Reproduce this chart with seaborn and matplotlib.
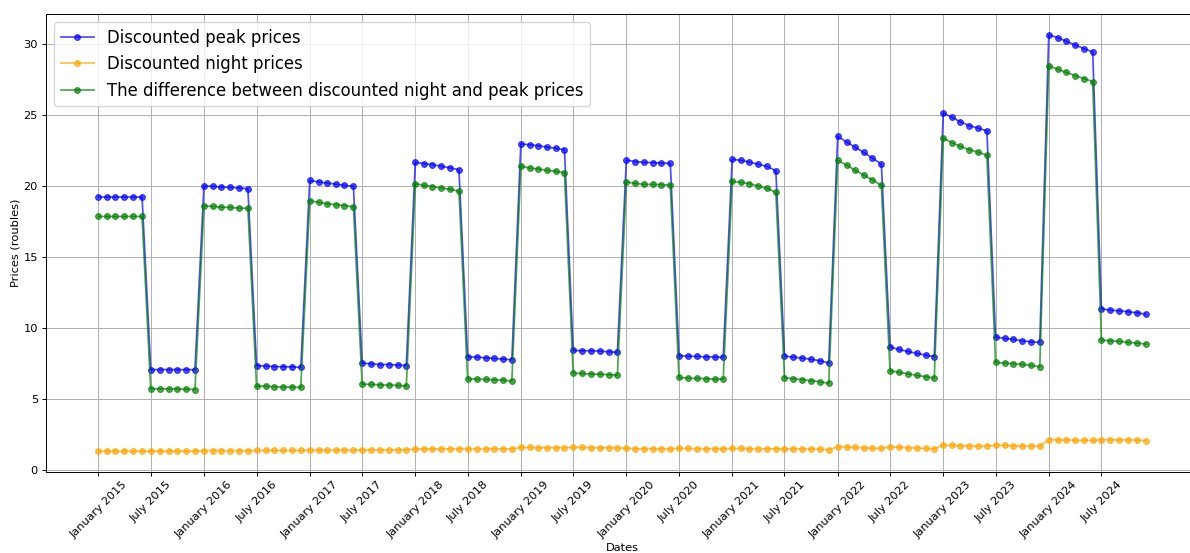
import pandas as pd
import matplotlib
matplotlib.use("Agg")
import matplotlib.pyplot as plt
import seaborn as sns


# monthly values, Jan 2015 - Dec 2024
dates = pd.date_range("2015-01-01", "2024-12-01", freq="MS")

peak_prices = [
    19.25, 19.25, 19.25, 19.25, 19.25, 19.25, 7.10, 7.10, 7.10, 7.10, 7.10, 7.09,
    20.02, 20.00, 19.95, 19.93, 19.88, 19.84, 7.39, 7.35, 7.32, 7.30, 7.30, 7.25,
    20.42, 20.31, 20.23, 20.16, 20.07, 20.00, 7.56, 7.51, 7.46, 7.46, 7.42, 7.39,
    21.69, 21.60, 21.53, 21.41, 21.31, 21.17, 8.00, 7.98, 7.93, 7.89, 7.84, 7.79,
    22.98, 22.93, 22.86, 22.77, 22.68, 22.58, 8.45, 8.43, 8.43, 8.40, 8.36, 8.31,
    21.85, 21.74, 21.69, 21.67, 21.64, 21.62, 8.08, 8.05, 8.03, 8.00, 8.00, 7.96,
    21.90, 21.83, 21.71, 21.55, 21.41, 21.10, 8.05, 7.98, 7.91, 7.82, 7.73, 7.56,
    23.52, 23.12, 22.77, 22.39, 21.99, 21.57, 8.69, 8.52, 8.38, 8.24, 8.13, 8.01,
    25.16, 24.85, 24.55, 24.27, 24.10, 23.91, 9.39, 9.30, 9.23, 9.13, 9.06, 9.02,
    30.66, 30.47, 30.21, 29.95, 29.70, 29.46, 11.38, 11.29, 11.24, 11.17, 11.10, 11.01,
]

night_prices = [
    1.36, 1.36, 1.36, 1.36, 1.36, 1.36, 1.36, 1.36, 1.36, 1.36, 1.36, 1.36,
    1.40, 1.40, 1.40, 1.40, 1.40, 1.40, 1.41, 1.41, 1.41, 1.41, 1.41, 1.41,
    1.43, 1.43, 1.43, 1.43, 1.43, 1.43, 1.45, 1.45, 1.45, 1.45, 1.45, 1.45,
    1.52, 1.52, 1.52, 1.52, 1.52, 1.52, 1.52, 1.52, 1.52, 1.52, 1.52, 1.52,
    1.62, 1.62, 1.61, 1.61, 1.61, 1.61, 1.62, 1.62, 1.61, 1.61, 1.61, 1.60,
    1.57, 1.53, 1.53, 1.53, 1.53, 1.53, 1.55, 1.55, 1.53, 1.53, 1.53, 1.53,
    1.55, 1.55, 1.53, 1.53, 1.53, 1.53, 1.53, 1.53, 1.52, 1.51, 1.50, 1.46,
    1.67, 1.65, 1.62, 1.60, 1.57, 1.55, 1.67, 1.63, 1.60, 1.58, 1.55, 1.52,
    1.78, 1.76, 1.74, 1.72, 1.70, 1.72, 1.78, 1.76, 1.74, 1.72, 1.72, 1.72,
    2.18, 2.16, 2.15, 2.13, 2.12, 2.12, 2.18, 2.16, 2.15, 2.15, 2.13, 2.11,
]

difference = [
    17.88, 17.88, 17.88, 17.88, 17.88, 17.88, 5.75, 5.75, 5.74, 5.74, 5.72, 5.70,
    18.62, 18.59, 18.54, 18.52, 18.47, 18.45, 5.94, 5.94, 5.89, 5.87, 5.87, 5.85,
    18.99, 18.87, 18.78, 18.71, 18.64, 18.57, 6.08, 6.06, 6.03, 6.01, 5.99, 5.94,
    20.19, 20.07, 19.98, 19.88, 19.79, 19.67, 6.46, 6.43, 6.41, 6.39, 6.36, 6.29,
    21.41, 21.29, 21.22, 21.13, 21.06, 20.96, 6.85, 6.83, 6.78, 6.78, 6.74, 6.71,
    20.31, 20.21, 20.14, 20.14, 20.12, 20.09, 6.55, 6.50, 6.48, 6.46, 6.43, 6.43,
    20.35, 20.28, 20.19, 20.02, 19.86, 19.58, 6.53, 6.46, 6.39, 6.32, 6.25, 6.13,
    21.83, 21.50, 21.15, 20.80, 20.45, 20.07, 7.02, 6.91, 6.81, 6.70, 6.60, 6.51,
    23.40, 23.07, 22.81, 22.58, 22.41, 22.18, 7.61, 7.56, 7.52, 7.47, 7.40, 7.30,
    28.48, 28.24, 28.03, 27.80, 27.59, 27.38, 9.18, 9.13, 9.09, 9.02, 8.97, 8.90,
]

tick_dates = pd.date_range("2015-01-01", "2024-07-01", freq="6MS")
tick_labels = [
    "January 2015", "July 2015", "January 2016", "July 2016",
    "January 2017", "July 2017", "January 2018", "July 2018",
    "January 2019", "July 2019", "January 2020", "July 2020",
    "January 2021", "July 2021", "January 2022", "July 2022",
    "January 2023", "July 2023", "January 2024", "July 2024",
]

df = pd.DataFrame({
    "date": dates,
    "peak": peak_prices,
    "night": night_prices,
    "diff": difference,
})

# the reference looks like a larger figure saved at a lower dpi,
# so everything is scaled down a bit
plt.rcParams.update({
    "font.size": 8.2,
    "axes.linewidth": 0.7,
    "axes.labelpad": 2.0,
    "xtick.major.size": 2.9,
    "ytick.major.size": 2.9,
    "xtick.major.pad": 2.6,
    "ytick.major.pad": 2.9,
    "xtick.major.width": 0.7,
    "ytick.major.width": 0.7,
    "grid.linewidth": 0.7,
})

fig = plt.figure(figsize=(11.9, 5.53), dpi=100)
# the original plot is cut off slightly on the right
ax = fig.add_axes([0.0387, 0.1465, 0.968, 0.828])

series = [
    ("peak", "blue", "Discounted peak prices"),
    ("night", "orange", "Discounted night prices"),
    ("diff", "green", "The difference between discounted night and peak prices"),
]
for col, color, label in series:
    sns.lineplot(data=df, x="date", y=col, ax=ax, color=color, marker="o",
                 markersize=4.2, markeredgecolor=color, linewidth=1.25,
                 alpha=0.7, label=label)

ax.set_xticks(tick_dates)
ax.set_xticklabels(tick_labels, rotation=45)
ax.set_xlabel("Dates")
ax.set_ylabel("Prices (roubles)")
ax.grid(True)
ax.legend(loc="upper left", fontsize=11.9)

plt.savefig("out.png", dpi=100)
plt.close()
